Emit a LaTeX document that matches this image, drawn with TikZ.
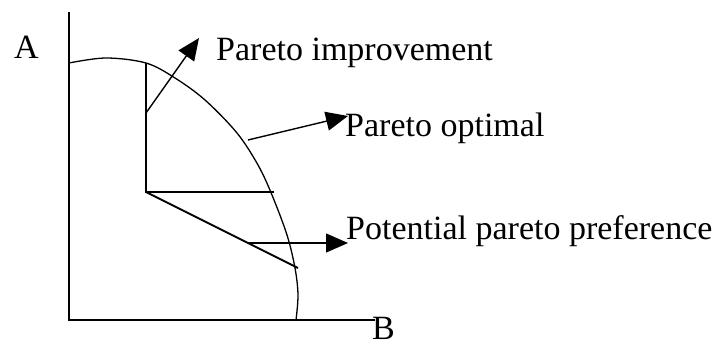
\documentclass[tikz,border=0pt]{standalone}
\usepackage{fontspec}
\setmainfont{Liberation Serif}
\usetikzlibrary{arrows.meta}
\begin{document}
\begin{tikzpicture}[x=1pt,y=-1pt,
  lbl/.style={anchor=base west,inner sep=0pt,font=\fontsize{34}{40}\selectfont},
  axis/.style={line width=2pt},
  seg/.style={line width=1.8pt},
  arr/.style={line width=1.4pt,-{Triangle[length=22pt,width=19pt]}},
  curve/.style={line width=1.3pt}]
\useasboundingbox (0,0) rectangle (715,347);
% axes
\coordinate (O) at (69,320);
\coordinate (Ytop) at (69,12);
\coordinate (Xend) at (375,320);
\draw[axis] (Ytop) -- (O) -- (Xend);
\node[lbl] (A) at (14,59) {A};
\node[lbl] (B) at (372,340) {B};
% frontier
\draw[curve] plot[smooth,tension=0.55] coordinates {(69,63) (106,58) (146,63) (175,78) (205,100) (237,133) (258,165) (272,195) (287,235) (295,268) (298,295) (296,320)};
% inner lines
\coordinate (Ptop) at (146,63);
\coordinate (P) at (146,192);
\coordinate (H) at (274,192);
\coordinate (D) at (298,268);
\draw[seg] (Ptop) -- (P) -- (H);
\draw[seg] (P) -- (D);
% labels
\node[lbl] (impr) at (216,61) {Pareto improvement};
\node[lbl] (opt) at (345,137) {Pareto optimal};
\node[lbl] (pot) at (346,240) {Potential pareto preference};
% arrows
\coordinate (a1s) at (146,113);
\coordinate (a1e) at (199,38);
\coordinate (a2s) at (248,140);
\coordinate (a2e) at (348,116);
\coordinate (a3s) at (248,243);
\coordinate (a3e) at (348,243);
\draw[arr] (a1s) -- (a1e);
\draw[arr] (a2s) -- (a2e);
\draw[arr] (a3s) -- (a3e);
\end{tikzpicture}
\end{document}
